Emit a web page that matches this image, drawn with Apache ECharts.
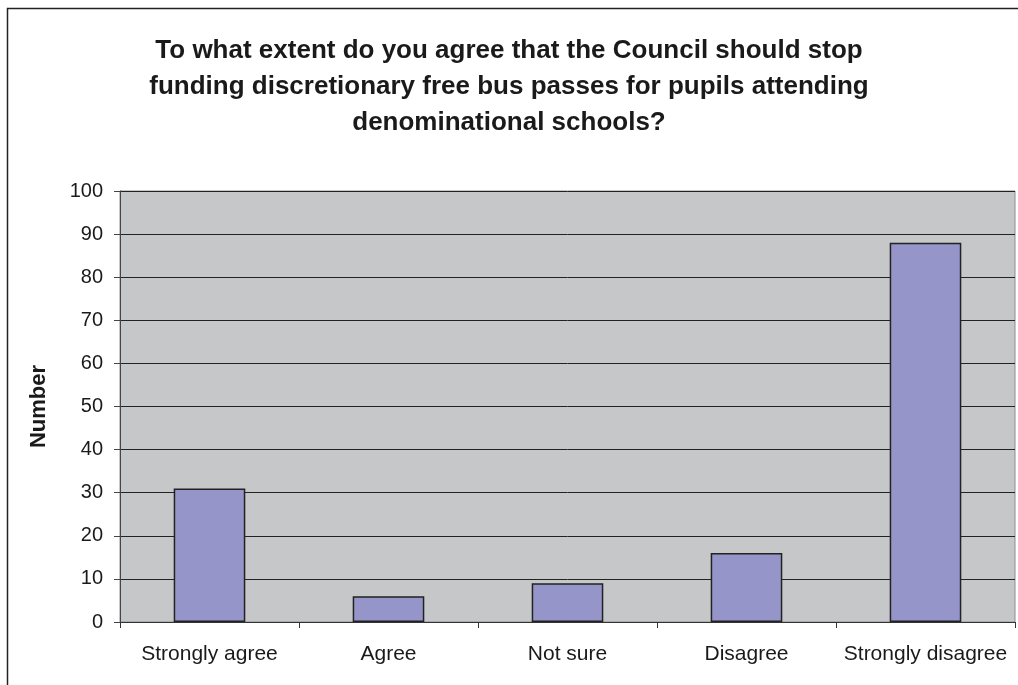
<!DOCTYPE html>
<html>
<head>
<meta charset="utf-8">
<script src="https://cdn.jsdelivr.net/npm/echarts@6/dist/echarts.min.js"></script>
<style>
html,body{margin:0;padding:0;background:#fff;}
#chart{width:1018px;height:685px;}
</style>
</head>
<body>
<div id="chart"></div>
<script>
const categories = ['Strongly agree', 'Agree', 'Not sure', 'Disagree', 'Strongly disagree'];
const values = [31, 6, 9, 16, 88];
const yTicks = { min: 0, max: 100, interval: 10 };
const titleText = 'To what extent do you agree that the Council should stop\nfunding discretionary free bus passes for pupils attending\ndenominational schools?';
const yAxisName = 'Number';

const chart = echarts.init(document.getElementById('chart'));
chart.setOption({
  animation: false,
  graphic: [{
    type: 'rect',
    shape: { x: 7.5, y: 8.5, width: 1030, height: 700 },
    style: { fill: 'none', stroke: '#222', lineWidth: 1.5 },
    z: 100
  }],
  title: {
    text: titleText,
    left: 'center',
    top: 28,
    textStyle: {
      fontFamily: 'Liberation Sans, Arial, sans-serif',
      fontSize: 26,
      fontWeight: 'bold',
      color: '#1a1a1a',
      lineHeight: 36
    }
  },
  grid: {
    left: 120, top: 191, right: 3, bottom: 63,
    show: true,
    backgroundColor: '#c6c7c9',
    borderColor: '#8c8c8c',
    borderWidth: 1
  },
  xAxis: {
    type: 'category',
    data: categories,
    axisLine: { lineStyle: { color: '#333', width: 1 } },
    axisTick: { show: true, interval: 0, length: 6, lineStyle: { color: '#333' } },
    axisLabel: {
      interval: 0,
      fontFamily: 'Liberation Sans, Arial, sans-serif',
      fontSize: 21, color: '#1a1a1a', margin: 22
    }
  },
  yAxis: {
    type: 'value',
    min: yTicks.min, max: yTicks.max, interval: yTicks.interval,
    name: yAxisName,
    nameLocation: 'middle',
    nameGap: 70,
    nameTextStyle: {
      fontFamily: 'Liberation Sans, Arial, sans-serif',
      fontSize: 22, fontWeight: 'bold', color: '#1a1a1a'
    },
    axisLine: { show: true, lineStyle: { color: '#444', width: 1 } },
    axisTick: { show: true, length: 6, lineStyle: { color: '#444' } },
    axisLabel: {
      fontFamily: 'Liberation Sans, Arial, sans-serif',
      fontSize: 20, color: '#1a1a1a', margin: 17
    },
    splitLine: { show: true, lineStyle: { color: '#222', width: 1 } }
  },
  series: [{
    type: 'bar',
    data: values,
    barWidth: '40%',
    itemStyle: { color: '#9595c9', borderColor: '#222', borderWidth: 1.5 }
  }]
});
</script>
</body>
</html>
